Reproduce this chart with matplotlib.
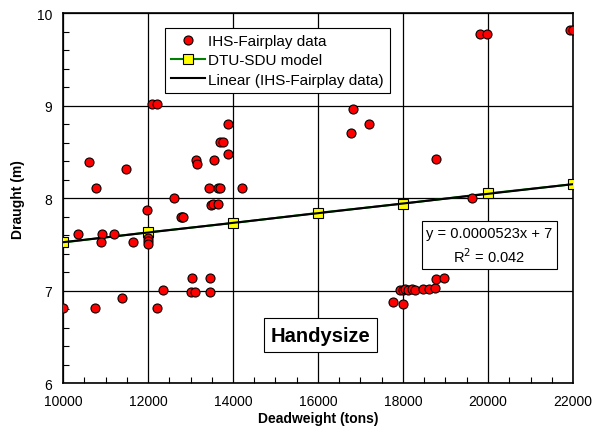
import numpy as np
import matplotlib
matplotlib.use("Agg")
import matplotlib.pyplot as plt
from matplotlib.ticker import MultipleLocator

plt.rcParams['font.family'] = ['Liberation Sans', 'DejaVu Sans']

# IHS-Fairplay handysize ships: deadweight (tons) and draught (m)
dwt = [10612, 10784, 11490, 11976, 12087, 12204, 12620, 12793, 12769, 12816,
       13122, 13145, 13435, 13482, 13537, 13640, 13553, 13655, 13694, 13694,
       13757, 13890, 13890, 14204,
       19812, 19984, 21929, 21992, 16816, 16769, 17200, 18784, 19624,
       10345, 10910, 11207, 10894, 11647, 11992, 11992, 11992,
       10008, 10753, 11396, 12212, 12361, 13027, 13459, 13004, 13098, 13459,
       17772, 17992, 17929, 18008, 18055, 18125, 18204, 18282, 18478, 18612,
       18753, 18784, 18972]
draught = [8.39, 8.11, 8.31, 7.87, 9.02, 9.02, 8.00, 7.80, 7.80, 7.80,
           8.41, 8.37, 8.11, 7.93, 7.94, 7.94, 8.41, 8.11, 8.11, 8.61,
           8.61, 8.80, 8.48, 8.11,
           9.77, 9.77, 9.82, 9.82, 8.96, 8.70, 8.80, 8.42, 8.00,
           7.61, 7.61, 7.61, 7.52, 7.52, 7.57, 7.54, 7.50,
           6.81, 6.81, 6.92, 6.81, 7.01, 7.14, 7.14, 6.98, 6.98, 6.98,
           6.88, 6.85, 7.01, 7.01, 7.02, 7.01, 7.02, 7.01, 7.02, 7.02,
           7.03, 7.13, 7.14]

# DTU-SDU model points
model_dwt = [10000, 12000, 14000, 16000, 18000, 20000, 22000]
model_draught = [7.52, 7.63, 7.73, 7.84, 7.94, 8.05, 8.15]

# linear fit reported for the IHS-Fairplay data
slope = 0.0000523
intercept = 7.0
r2 = 0.042

fig = plt.figure(figsize=(6.0, 4.39), dpi=100)
ax = fig.add_axes([0.105, 0.125, 0.85, 0.843])

ax.plot(dwt, draught, 'o', color='red', markeredgecolor='black',
        markeredgewidth=0.8, markersize=6.5, label='IHS-Fairplay data', zorder=4)
ax.plot(model_dwt, model_draught, '-s', color='green', lw=1.5,
        markerfacecolor='yellow', markeredgecolor='black', markeredgewidth=0.8,
        markersize=7.5, label='DTU-SDU model', zorder=3)
xfit = np.array([10000, 22000])
ax.plot(xfit, slope * xfit + intercept, color='black', lw=1.5,
        label='Linear (IHS-Fairplay data)', zorder=3.5)

ax.set_xlim(10000, 22000)
ax.set_ylim(6, 10)
ax.xaxis.set_major_locator(MultipleLocator(2000))
ax.xaxis.set_minor_locator(MultipleLocator(500))
ax.yaxis.set_major_locator(MultipleLocator(1))
ax.yaxis.set_minor_locator(MultipleLocator(0.2))
ax.tick_params(which='major', length=0, labelsize=10, pad=8)
ax.tick_params(which='minor', direction='in', length=4, width=0.8)
ax.grid(True, which='major', color='black', lw=0.9)
ax.set_axisbelow(True)
for s in ax.spines.values():
    s.set_linewidth(1.2)

ax.set_xlabel('Deadweight (tons)', fontsize=10, fontweight='bold', labelpad=2)
ax.set_ylabel('Draught (m)', fontsize=10, fontweight='bold', labelpad=8)

leg = ax.legend(loc='upper left', bbox_to_anchor=(0.2, 0.96), fontsize=11,
                fancybox=False, edgecolor='black', framealpha=1,
                borderpad=0.4, labelspacing=0.35, handlelength=2.2,
                handletextpad=0.2, borderaxespad=0)
leg.get_frame().set_linewidth(0.8)

ax.text(0.836, 0.373, 'y = 0.0000523x + 7\nR$^2$ = 0.042', transform=ax.transAxes,
        ha='center', va='center', fontsize=10.5, linespacing=1.4,
        bbox=dict(boxstyle='square,pad=0.3', fc='white', ec='black', lw=0.8),
        zorder=6)
ax.text(0.505, 0.13, 'Handysize', transform=ax.transAxes, ha='center',
        va='center', fontsize=14.5, fontweight='bold',
        bbox=dict(boxstyle='square,pad=0.35', fc='white', ec='black', lw=0.8),
        zorder=6)

fig.savefig('out.png', dpi=100)
